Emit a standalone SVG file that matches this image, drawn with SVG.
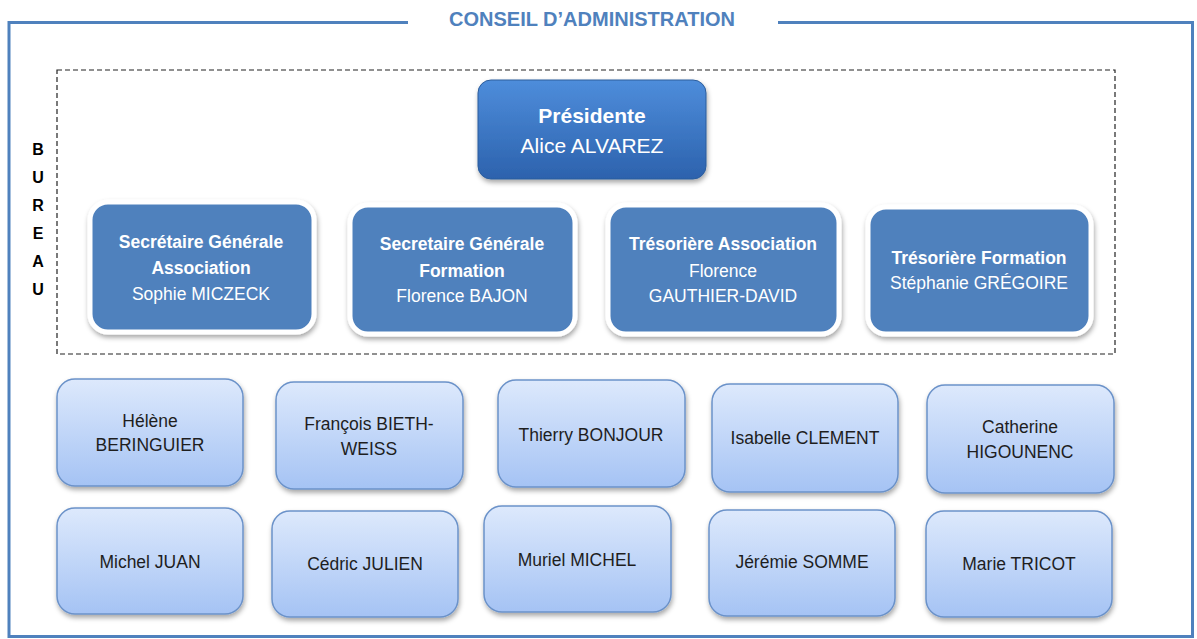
<svg xmlns="http://www.w3.org/2000/svg" width="1197" height="639" viewBox="0 0 1197 639">
<style>
.frame{fill:none;stroke:#4f81bd;stroke-width:3}
.title{font-family:"Liberation Sans",Arial,sans-serif;font-weight:bold;font-size:20px;fill:#4f81bd;text-anchor:middle}
.bureau{font-family:"Liberation Sans",Arial,sans-serif;font-weight:bold;font-size:16px;fill:#000;text-anchor:middle}
.dash{fill:none;stroke:#222;stroke-width:1.2;stroke-dasharray:5 3}
.pres{fill:url(#gPres);stroke:#2c5d9c;stroke-width:1}
.off{fill:#4f81bd;stroke:#fff;stroke-width:5}
.mem{fill:url(#gMem);stroke:#6b92c9;stroke-width:1.5}
.tw{font-family:"Liberation Sans",Arial,sans-serif;font-size:17.5px;fill:#fff;text-anchor:middle}
.twb{font-weight:bold}
.tp{font-family:"Liberation Sans",Arial,sans-serif;font-size:21px;fill:#fff;text-anchor:middle}
.tm{font-family:"Liberation Sans",Arial,sans-serif;font-size:17.5px;fill:#1e1e1e;text-anchor:middle}
</style>
<defs>
<linearGradient id="gPres" x1="0" y1="0" x2="0" y2="1">
<stop offset="0" stop-color="#4e8ddb"/>
<stop offset="1" stop-color="#2c62ad"/>
</linearGradient>
<linearGradient id="gMem" x1="0" y1="0" x2="0" y2="1">
<stop offset="0" stop-color="#dde9fc"/>
<stop offset="1" stop-color="#a5c3f4"/>
</linearGradient>
<filter id="sh" x="-10%" y="-10%" width="125%" height="130%">
<feDropShadow dx="1" dy="3" stdDeviation="2.5" flood-color="#000" flood-opacity="0.35"/>
</filter>
</defs>
<rect width="1197" height="639" fill="#fff"/>
<g id="frame">
<path class="frame" d="M408 22.5 H9 V636.5 H1192.5 V22.5 H778"/>
<text class="title" x="592" y="26">CONSEIL D’ADMINISTRATION</text>
</g>
<g id="bureau">
<rect class="dash" x="57" y="70" width="1058" height="284"/>
<text class="bureau" x="38" y="155">B</text>
<text class="bureau" x="38" y="183">U</text>
<text class="bureau" x="38" y="211">R</text>
<text class="bureau" x="38" y="239">E</text>
<text class="bureau" x="38" y="267">A</text>
<text class="bureau" x="38" y="295">U</text>
</g>
<g id="connectors"></g>
<g id="presidente">
<rect class="pres" x="478" y="80" width="228" height="99" rx="13" filter="url(#sh)"/>
<text class="tp" x="592" y="123"><tspan font-weight="bold">Présidente</tspan></text>
<text class="tp" x="592" y="153">Alice ALVAREZ</text>
</g>
<g id="sg-association">
<rect class="off" x="90" y="202" width="224" height="130" rx="18" filter="url(#sh)"/>
<text class="tw twb" x="201" y="248">Secrétaire Générale</text>
<text class="tw twb" x="201" y="274">Association</text>
<text class="tw" x="201" y="300">Sophie MICZECK</text>
</g>
<g id="sg-formation">
<rect class="off" x="350" y="205" width="225" height="129" rx="18" filter="url(#sh)"/>
<text class="tw twb" x="462" y="250">Secretaire Générale</text>
<text class="tw twb" x="462" y="277">Formation</text>
<text class="tw" x="462" y="302">Florence BAJON</text>
</g>
<g id="tres-association">
<rect class="off" x="608" y="205" width="231" height="129" rx="18" filter="url(#sh)"/>
<text class="tw twb" x="723" y="250">Trésorière Association</text>
<text class="tw" x="723" y="277">Florence</text>
<text class="tw" x="723" y="302">GAUTHIER-DAVID</text>
</g>
<g id="tres-formation">
<rect class="off" x="868" y="207" width="223" height="127" rx="18" filter="url(#sh)"/>
<text class="tw twb" x="979" y="264">Trésorière Formation</text>
<text class="tw" x="979" y="289">Stéphanie GRÉGOIRE</text>
</g>
<g id="m-beringuier">
<rect class="mem" x="57" y="379" width="186" height="107" rx="18" filter="url(#sh)"/>
<text class="tm" x="150" y="427">Hélène</text>
<text class="tm" x="150" y="451">BERINGUIER</text>
</g>
<g id="m-bieth">
<rect class="mem" x="276" y="382" width="187" height="107" rx="18" filter="url(#sh)"/>
<text class="tm" x="369" y="430">François BIETH-</text>
<text class="tm" x="369" y="455">WEISS</text>
</g>
<g id="m-bonjour">
<rect class="mem" x="498" y="380" width="187" height="107" rx="18" filter="url(#sh)"/>
<text class="tm" x="591" y="441">Thierry BONJOUR</text>
</g>
<g id="m-clement">
<rect class="mem" x="712" y="384" width="186" height="108" rx="18" filter="url(#sh)"/>
<text class="tm" x="805" y="444">Isabelle CLEMENT</text>
</g>
<g id="m-higounenc">
<rect class="mem" x="927" y="385" width="187" height="108" rx="18" filter="url(#sh)"/>
<text class="tm" x="1020" y="433">Catherine</text>
<text class="tm" x="1020" y="458">HIGOUNENC</text>
</g>
<g id="m-juan">
<rect class="mem" x="57" y="508" width="186" height="106" rx="18" filter="url(#sh)"/>
<text class="tm" x="150" y="568">Michel JUAN</text>
</g>
<g id="m-julien">
<rect class="mem" x="272" y="511" width="186" height="106" rx="18" filter="url(#sh)"/>
<text class="tm" x="365" y="570">Cédric JULIEN</text>
</g>
<g id="m-michel">
<rect class="mem" x="484" y="506" width="187" height="106" rx="18" filter="url(#sh)"/>
<text class="tm" x="577" y="566">Muriel MICHEL</text>
</g>
<g id="m-somme">
<rect class="mem" x="709" y="510" width="186" height="106" rx="18" filter="url(#sh)"/>
<text class="tm" x="802" y="568">Jérémie SOMME</text>
</g>
<g id="m-tricot">
<rect class="mem" x="926" y="511" width="186" height="106" rx="18" filter="url(#sh)"/>
<text class="tm" x="1019" y="570">Marie TRICOT</text>
</g>
</svg>
